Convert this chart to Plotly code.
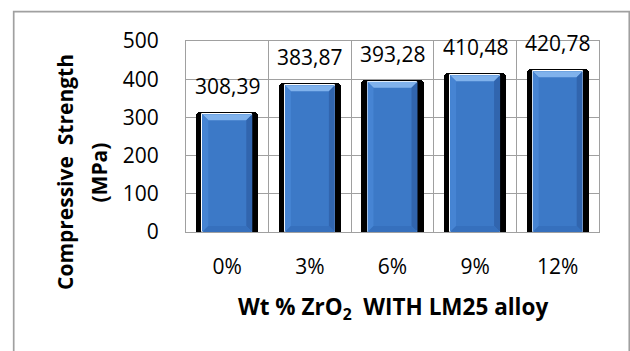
import plotly.graph_objects as go

# Compressive strength of LM25 alloy reinforced with ZrO2
categories = ["0%", "3%", "6%", "9%", "12%"]
strength = [308.39, 383.87, 393.28, 410.48, 420.78]
y_ticks = [0, 100, 200, 300, 400, 500]

W, H = 630, 351
# plot area edges in pixels
PL, PR, PT, PB = 186, 599, 41, 232
Y_MAX = 500


def paper_x(px):
    return (px - PL) / (PR - PL)


def paper_y(py):
    return (PB - py) / (PB - PT)


x = list(range(len(categories)))
labels = [f"{v:.2f}".replace(".", ",") for v in strength]

ux = len(categories) / (PR - PL)   # x units per pixel
uy = Y_MAX / (PB - PT)             # y units per pixel

BODY_W = 0.605
BACK_W = 0.753
BEVEL = 6  # px

FONT = "Open Sans"
GRID = "#a0a0a0"

fig = go.Figure()

# dark backing behind each column
fig.add_bar(x=x, y=[v + 2 * uy for v in strength], width=BACK_W,
            marker=dict(color="#000000", cornerradius=4, line=dict(width=0)),
            hoverinfo="skip", showlegend=False)

# blue column body
fig.add_bar(x=x, y=strength, width=BODY_W,
            marker=dict(color="#3c79c7", line=dict(color="#ffffff", width=1)),
            hoverinfo="skip", showlegend=False)


def bevel_trace(corner_fn, color):
    xs, ys = [], []
    for xi, v in zip(x, strength):
        l, r = xi - BODY_W / 2, xi + BODY_W / 2
        dx, dy = BEVEL * ux, BEVEL * uy
        pts = corner_fn(l, r, v, dx, dy)
        xs += [p[0] for p in pts] + [pts[0][0], None]
        ys += [p[1] for p in pts] + [pts[0][1], None]
    return go.Scatter(x=xs, y=ys, mode="lines", fill="toself", fillcolor=color,
                      line=dict(width=0), hoverinfo="skip", showlegend=False)


# bevelled edges of the columns
fig.add_trace(bevel_trace(lambda l, r, v, dx, dy: [(l, v), (r, v), (r - dx, v - dy), (l + dx, v - dy)], "#80b2ec"))
fig.add_trace(bevel_trace(lambda l, r, v, dx, dy: [(l, v), (l + dx, v - dy), (l + dx, dy), (l, 0)], "#4684d3"))
fig.add_trace(bevel_trace(lambda l, r, v, dx, dy: [(r, v), (r - dx, v - dy), (r - dx, dy), (r, 0)], "#3165ae"))
fig.add_trace(bevel_trace(lambda l, r, v, dx, dy: [(l, 0), (l + dx, dy), (r - dx, dy), (r, 0)], "#3670bd"))

# value labels
for xi, v, t in zip(x, strength, labels):
    fig.add_annotation(x=xi, y=v, text=t, showarrow=False, yanchor="bottom",
                       yshift=12, font=dict(family=FONT, size=21, color="#000000"))

# axis titles
fig.add_annotation(x=paper_x(393), y=paper_y(308), xref="paper", yref="paper",
                   text="Wt % ZrO<sub>2</sub>\u00a0\u00a0WITH LM25 alloy", showarrow=False,
                   xanchor="center", yanchor="middle",
                   font=dict(family=FONT, size=22.5, color="#000000", weight="bold"))
fig.add_annotation(x=paper_x(65), y=paper_y(172), xref="paper", yref="paper",
                   text="Compressive\u00a0\u00a0Strength", showarrow=False, textangle=-90,
                   xanchor="center", yanchor="middle",
                   font=dict(family=FONT, size=21, color="#000000", weight="bold"))
fig.add_annotation(x=paper_x(98.5), y=paper_y(173), xref="paper", yref="paper",
                   text="(MPa)", showarrow=False, textangle=-90,
                   xanchor="center", yanchor="middle",
                   font=dict(family=FONT, size=21, color="#000000", weight="bold"))

# chart-area frame
fig.add_shape(type="rect", xref="paper", yref="paper",
              x0=paper_x(13.7), x1=paper_x(629.3), y0=paper_y(365), y1=paper_y(11.7),
              line=dict(color=GRID, width=1.7), layer="below")

fig.update_layout(
    width=W, height=H, template="none",
    margin=dict(l=PL, r=W - PR, t=PT, b=H - PB, autoexpand=False),
    paper_bgcolor="#ffffff", plot_bgcolor="#ffffff",
    barmode="overlay", bargap=0, showlegend=False,
    font=dict(family=FONT, color="#000000"),
)
fig.update_xaxes(
    range=[-0.5, len(categories) - 0.5], tickmode="array", tickvals=x, ticktext=categories,
    showgrid=False, zeroline=False, ticks="", automargin=False,
    showline=True, linecolor=GRID, linewidth=1.2, mirror=True,
    tickfont=dict(family=FONT, size=21, color="#000000"), ticklabelstandoff=16,
    minor=dict(tickmode="array", tickvals=[i + 0.5 for i in x[:-1]], showgrid=True,
               gridcolor=GRID, gridwidth=1.2, ticks=""),
)
fig.update_yaxes(
    range=[0, Y_MAX], tickmode="array", tickvals=y_ticks,
    showgrid=True, gridcolor=GRID, gridwidth=1.2, zeroline=False, ticks="", automargin=False,
    showline=True, linecolor=GRID, linewidth=1.2, mirror=True,
    tickfont=dict(family=FONT, size=21, color="#000000"), ticklabelstandoff=22,
)

fig.write_html("out.html")
